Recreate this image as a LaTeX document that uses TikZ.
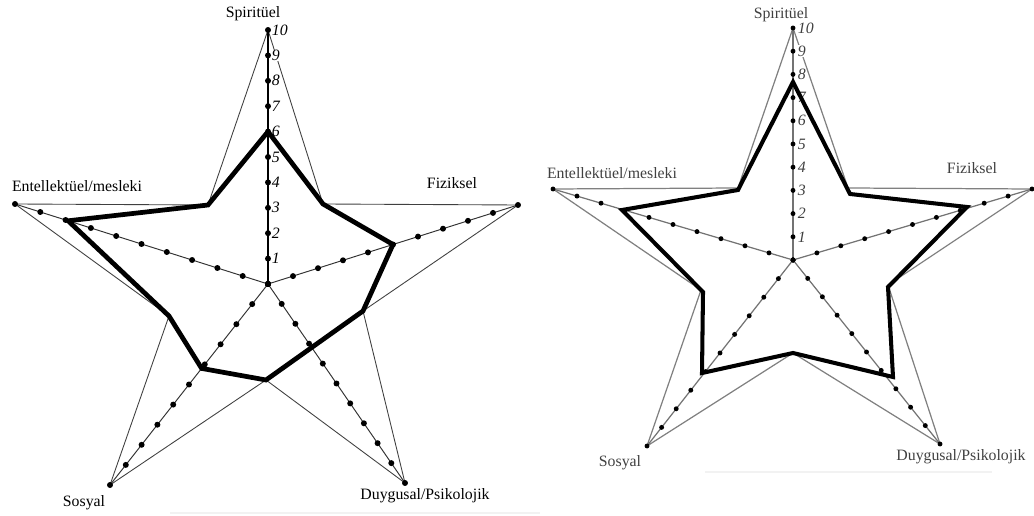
\documentclass[tikz,border=0pt]{standalone}
\usepackage{fontspec}
\setmainfont{Liberation Serif}
\usepackage{tikz}
\usetikzlibrary{calc}

\tikzset{
	axisline/.style={black!80,line width=0.55pt},
	starline/.style={black!75,line width=0.5pt},
	scoreline/.style={black,line width=2.7pt,line join=miter},
	ticknum/.style={font=\fontsize{9}{9}\selectfont\itshape,fill=white,inner sep=0.3pt,anchor=west},
	axislabel/.style={font=\fontsize{9}{10}\selectfont,inner sep=0pt},
}

\begin{document}
\begin{tikzpicture}[x=0.02cm,y=-0.02cm]
	\useasboundingbox (0,0) rectangle (1034,516);

	% left star: centre, tips, inner corners
	\coordinate (Lc) at (268,284);
	\coordinate (Lspir) at (268,30);
	\coordinate (Lfiz) at (518,205);
	\coordinate (Lduy) at (405,483);
	\coordinate (Lsos) at (110,485);
	\coordinate (Lent) at (15,204);
	\coordinate (Ltr) at (323,204);
	\coordinate (Lr) at (363,311);
	\coordinate (Lb) at (266,380);
	\coordinate (Ll) at (169,316);
	\coordinate (Ltl) at (208,205);

	\draw[starline] (Lspir) -- (Ltr) -- (Lfiz) -- (Lr) -- (Lduy) -- (Lb) -- (Lsos) -- (Ll) -- (Lent) -- (Ltl) -- cycle;
	\foreach \t in {Lspir,Lfiz,Lduy,Lsos,Lent}{
			\draw[axisline] (Lc) -- (\t);
			\foreach \i in {0,...,10}{
					\fill ($(Lc)!{\i/10}!(\t)$) circle (1.7pt);
				}
		}
	\draw[black,line width=0.8pt] (Lc) -- (Lspir);

	\foreach \i in {1,...,10}{
			\node[ticknum] (Lnum\i) at ($(Lc)!{\i/10}!(Lspir)+(3,0)$) {\i};
		}

	% left scores
	\coordinate (Lspirv) at ($(Lc)!0.6!(Lspir)$);
	\coordinate (Lfizv) at ($(Lc)!0.5!(Lfiz)$);
	\coordinate (Lsosv) at ($(Lc)!0.42!(Lsos)$);
	\coordinate (Lentv) at ($(Lc)!0.79!(Lent)$);
	\draw[scoreline] (Lspirv) -- (Ltr) -- (Lfizv) -- (Lr) -- (Lb) -- (Lsosv) -- (Ll) -- (Lentv) -- (Ltl) -- cycle;

	\node[axislabel] (Lspirlab) at (253,14) {Spiritüel};
	\node[axislabel] (Lfizlab) at (452,183) {Fiziksel};
	\node[axislabel] (Lentlab) at (77,186) {Entellektüel/mesleki};
	\node[axislabel] (Lsoslab) at (84,503) {Sosyal};
	\node[axislabel] (Lduylab) at (425,496) {Duygusal/Psikolojik};
	\draw[black!5,line width=0.8pt] (170,513) -- (540,513);

	% right star: centre, tips, inner corners
	\coordinate (Rc) at (793,260);
	\coordinate (Rspir) at (793,28);
	\coordinate (Rfiz) at (1032,189);
	\coordinate (Rduy) at (940,444);
	\coordinate (Rsos) at (647,446);
	\coordinate (Rent) at (553,189);
	\coordinate (Rtr) at (848,188);
	\coordinate (Rr) at (888,285);
	\coordinate (Rb) at (793,353);
	\coordinate (Rl) at (701,290);
	\coordinate (Rtl) at (738,188);

	\draw[starline,black!50,line width=0.7pt] (Rspir) -- (Rtr) -- (Rfiz) -- (Rr) -- (Rduy) -- (Rb) -- (Rsos) -- (Rl) -- (Rent) -- (Rtl) -- cycle;
	\foreach \t in {Rspir,Rfiz,Rduy,Rsos,Rent}{
			\draw[axisline,black!55,line width=0.7pt] (Rc) -- (\t);
			\foreach \i in {0,...,10}{
					\fill ($(Rc)!{\i/10}!(\t)$) circle (1.4pt);
				}
		}

	\foreach \i in {1,...,10}{
			\node[ticknum,text=black!75] (Rnum\i) at ($(Rc)!{\i/10}!(Rspir)+(4,0)$) {\i};
		}

	% right scores
	\coordinate (Rspirv) at (793,82);
	\coordinate (Rtrv) at (850,194);
	\coordinate (Rfizv) at (967,207);
	\coordinate (Rrv) at (888,287);
	\coordinate (Rduyv) at (893,377);
	\coordinate (Rsosv) at (702,373);
	\coordinate (Rlv) at (703,292);
	\coordinate (Rentv) at (622,210);
	\coordinate (Rtlv) at (738,190);
	\draw[scoreline,line width=2.3pt] (Rspirv) -- (Rtrv) -- (Rfizv) -- (Rrv) -- (Rduyv) -- (Rb) -- (Rsosv) -- (Rlv) -- (Rentv) -- (Rtlv) -- cycle;

	\node[axislabel,text=black!75] (Rspirlab) at (781,15) {Spiritüel};
	\node[axislabel,text=black!75] (Rfizlab) at (972,168) {Fiziksel};
	\node[axislabel,text=black!75] (Rentlab) at (612,173) {Entellektüel/mesleki};
	\node[axislabel,text=black!75] (Rsoslab) at (620,463) {Sosyal};
	\node[axislabel,text=black!75] (Rduylab) at (961,457) {Duygusal/Psikolojik};
	\draw[black!5,line width=0.8pt] (705,472) -- (992,472);
\end{tikzpicture}
\end{document}
